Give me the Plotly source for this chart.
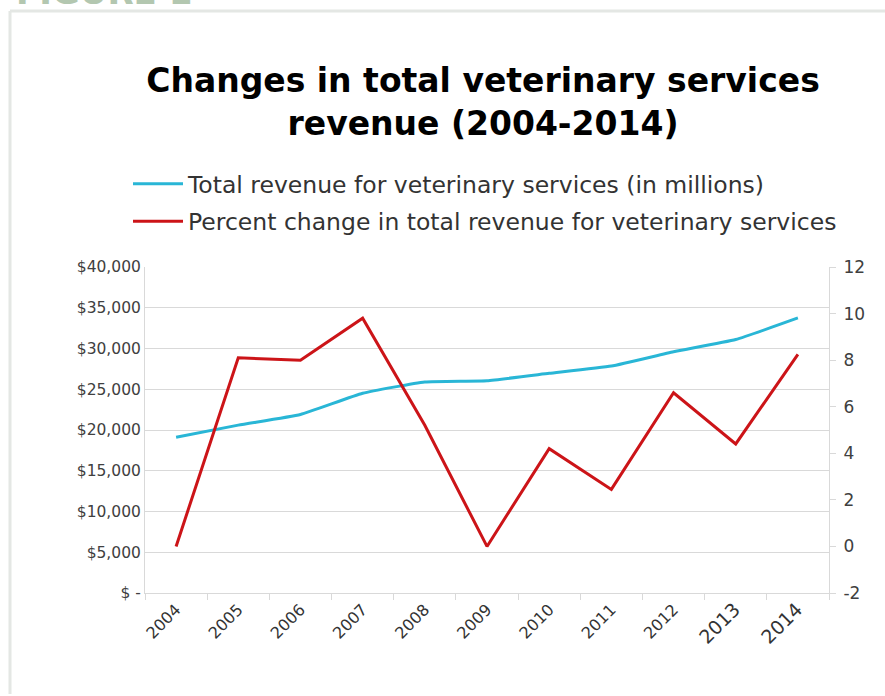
import plotly.graph_objects as go

years = ["2004", "2005", "2006", "2007", "2008", "2009", "2010", "2011", "2012", "2013", "2014"]
revenue_millions = [19100, 20600, 21900, 24500, 25900, 26050, 26950, 27850, 29600, 31100, 33750]
pct_change = [0.0, 8.1, 8.0, 9.8, 5.2, 0.0, 4.2, 2.45, 6.6, 4.4, 8.25]

left_tickvals = [0, 5000, 10000, 15000, 20000, 25000, 30000, 35000, 40000]
left_ticktext = ["$ -", "$5,000", "$10,000", "$15,000", "$20,000", "$25,000", "$30,000", "$35,000", "$40,000"]
right_tickvals = [-2, 0, 2, 4, 6, 8, 10, 12]
right_ticktext = ["-2", "0", "2", "4", "6", "8", "10", "12"]
big_labels = ["2013", "2014"]

W, H = 885, 696
L, R, T, B = 145, 829, 267, 593


def px_x(px):
    return (px - L) / (R - L)


def px_y(py):
    return (B - py) / (B - T)


x_ticktext = [
    f'<span style="font-size:19px">{y}</span>' if y in big_labels else y for y in years
]

fig = go.Figure()
fig.add_trace(go.Scatter(
    x=years, y=revenue_millions, mode="lines",
    name="Total revenue for veterinary services (in millions)",
    line=dict(color="#29b6d6", width=3, shape="spline", smoothing=0.4),
    legendgroup="a", yaxis="y",
))
fig.add_trace(go.Scatter(
    x=years, y=pct_change, mode="lines",
    name="Percent change in total revenue for veterinary services",
    line=dict(color="#cc1418", width=3),
    legendgroup="b", yaxis="y2",
))

grid = "#d9d9d9"
fig.update_layout(
    width=W, height=H,
    margin=dict(l=L, r=W - R, t=T, b=H - B),
    paper_bgcolor="white", plot_bgcolor="white",
    font=dict(family="DejaVu Sans", color="#404040"),
    title=dict(
        text="<b>Changes in total veterinary services<br>revenue (2004-2014)</b>",
        font=dict(family="DejaVu Sans", size=33, color="#000000"),
        x=483 / W, xref="container", xanchor="center",
        y=1 - 92 / H, yref="container", yanchor="top",
    ),
    showlegend=True,
    legend=dict(
        x=px_x(128), y=px_y(162), xanchor="left", yanchor="top",
        font=dict(family="DejaVu Sans", size=23.5, color="#333333"),
        bgcolor="rgba(0,0,0,0)", tracegroupgap=4, itemwidth=50,
    ),
    xaxis=dict(
        type="category", categoryorder="array", categoryarray=years,
        tickmode="array", tickvals=years, ticktext=x_ticktext,
        range=[-0.5, len(years) - 0.5],
        tickson="boundaries", ticks="outside", ticklen=6, tickcolor=grid,
        showline=True, linecolor=grid, linewidth=1, showgrid=False,
        tickangle=-45, tickfont=dict(size=16, color="#333333"),
    ),
    yaxis=dict(
        range=[0, 40000], tickmode="array", tickvals=left_tickvals, ticktext=left_ticktext,
        showgrid=True, gridcolor=grid, gridwidth=1, zeroline=False,
        showline=True, linecolor=grid, ticks="",
        tickfont=dict(size=15.5, color="#404040"),
    ),
    yaxis2=dict(
        overlaying="y", side="right", range=[-2, 12], tickmode="array",
        tickvals=right_tickvals, ticktext=right_ticktext,
        showgrid=False, zeroline=False, showline=True, linecolor=grid,
        ticks="outside", ticklen=6, tickcolor=grid, ticklabelstandoff=4,
        tickfont=dict(size=17, color="#404040"),
    ),
)

# frame of the original figure box
fig.add_shape(type="line", xref="paper", yref="paper",
              x0=px_x(10), x1=px_x(W + 5), y0=px_y(11), y1=px_y(11),
              line=dict(color="#e4e7e4", width=3))
fig.add_shape(type="line", xref="paper", yref="paper",
              x0=px_x(10), x1=px_x(10), y0=px_y(11), y1=px_y(694),
              line=dict(color="#e4e7e4", width=3))

# cut-off heading above the chart box
fig.add_annotation(
    text="<b>FIGURE 1</b>", xref="paper", yref="paper",
    x=px_x(14), y=px_y(14), xanchor="left", yanchor="bottom",
    showarrow=False, font=dict(family="DejaVu Sans", size=34, color="#b3c7b0"),
)

fig.write_html("out.html")
